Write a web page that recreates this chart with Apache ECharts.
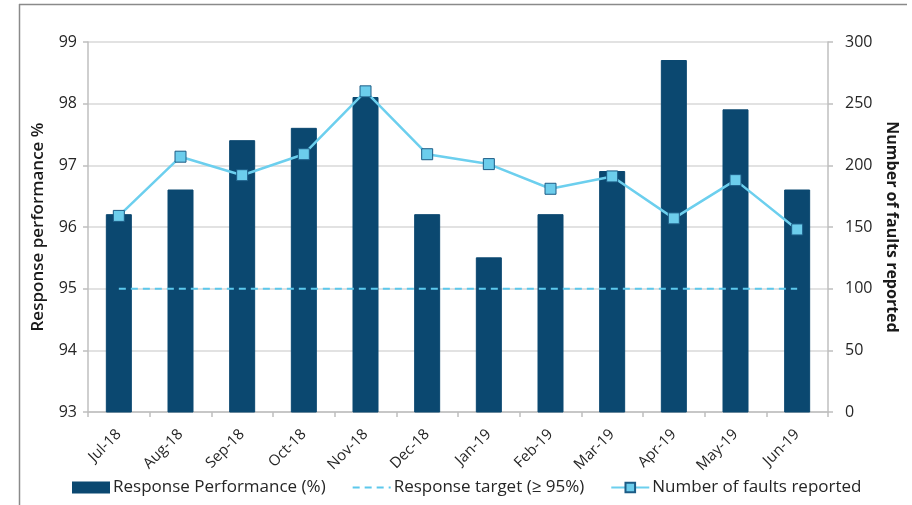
<!DOCTYPE html>
<html>
<head>
<meta charset="utf-8">
<script src="https://cdn.jsdelivr.net/npm/echarts@6/dist/echarts.min.js"></script>
<style>
html,body{margin:0;padding:0;background:#fff;}
#c{width:912px;height:505px;}
</style>
</head>
<body>
<div id="c"></div>
<script>
const categories = ['Jul-18','Aug-18','Sep-18','Oct-18','Nov-18','Dec-18','Jan-19','Feb-19','Mar-19','Apr-19','May-19','Jun-19'];
const responsePerformance = [96.2, 96.6, 97.4, 97.6, 98.1, 96.2, 95.5, 96.2, 96.9, 98.7, 97.9, 96.6];
const responseTarget = [95, 95, 95, 95, 95, 95, 95, 95, 95, 95, 95, 95];
const faultsReported = [159, 207, 192, 209, 260, 209, 201, 181, 191, 157, 188, 148];
const leftTicks = [93, 99, 1];
const rightTicks = [0, 300, 50];

const FONT = '"Open Sans", "Liberation Sans", sans-serif';
const chart = echarts.init(document.getElementById('c'), null, {renderer: 'canvas'});
chart.setOption({
  animation: false,
  backgroundColor: '#ffffff',
  textStyle: {fontFamily: FONT, color: '#262626'},
  grid: {left: 88, right: 84, top: 42, bottom: 93, containLabel: false},
  graphic: [
    {type: 'line', shape: {x1: 19, y1: 4.5, x2: 907, y2: 4.5}, style: {stroke: '#8a8a8a', lineWidth: 1.5}, silent: true},
    {type: 'line', shape: {x1: 19.5, y1: 4, x2: 19.5, y2: 505}, style: {stroke: '#8a8a8a', lineWidth: 1.5}, silent: true}
  ],
  legend: {
    left: 72, top: 479, padding: 0,
    itemWidth: 38, itemHeight: 12, itemGap: 26,
    textStyle: {fontFamily: FONT, fontSize: 17, color: '#262626', padding: [0, 0, 0, -2]},
    data: [
      {name: 'Response Performance (%)', icon: 'rect'},
      {name: 'Response target (\u2265 95%)', itemStyle: {opacity: 0}},
      {name: 'Number of faults reported'}
    ]
  },
  xAxis: {
    type: 'category',
    data: categories,
    boundaryGap: true,
    axisLine: {lineStyle: {color: '#bfbfbf', width: 1.5}},
    axisTick: {show: true, length: 5, lineStyle: {color: '#bfbfbf', width: 1.5}},
    axisLabel: {rotate: 45, fontSize: 15, color: '#262626', margin: 20, fontFamily: FONT, interval: 0}
  },
  yAxis: [
    {
      type: 'value', min: leftTicks[0], max: leftTicks[1], interval: leftTicks[2],
      name: 'Response performance %', nameLocation: 'middle', nameGap: 41, nameRotate: 90,
      nameTextStyle: {fontSize: 17, fontWeight: 600, color: '#1a1a1a', fontFamily: FONT},
      axisLine: {show: true, lineStyle: {color: '#bfbfbf', width: 1.5}},
      axisTick: {show: true, length: 5, lineStyle: {color: '#bfbfbf', width: 1.5}},
      axisLabel: {fontSize: 16, color: '#262626', margin: 11, fontFamily: FONT},
      splitLine: {lineStyle: {color: '#d9d9d9', width: 1.5}}
    },
    {
      type: 'value', min: rightTicks[0], max: rightTicks[1], interval: rightTicks[2],
      name: 'Number of faults reported', nameLocation: 'middle', nameGap: 50, nameRotate: -90,
      nameTextStyle: {fontSize: 16, fontWeight: 'bold', color: '#1a1a1a', fontFamily: FONT},
      axisLine: {show: true, lineStyle: {color: '#bfbfbf', width: 1.5}},
      axisTick: {show: true, length: 5, lineStyle: {color: '#bfbfbf', width: 1.5}},
      axisLabel: {fontSize: 16, color: '#262626', margin: 17, fontFamily: FONT},
      splitLine: {show: false}
    }
  ],
  series: [
    {
      name: 'Response Performance (%)', type: 'bar', yAxisIndex: 0,
      data: responsePerformance, barWidth: 25,
      itemStyle: {color: '#0b4870', borderColor: '#0b4870'},
      z: 2
    },
    {
      name: 'Response target (\u2265 95%)', type: 'line', yAxisIndex: 0,
      data: responseTarget, symbol: 'none', showSymbol: false,
      lineStyle: {color: '#5cc8ec', width: 2, type: [7, 5]},
      itemStyle: {color: '#5cc8ec'},
      z: 3
    },
    {
      name: 'Number of faults reported', type: 'line', yAxisIndex: 1,
      data: faultsReported, symbol: 'rect', symbolSize: 11,
      lineStyle: {color: '#6ccfee', width: 2.5},
      itemStyle: {color: '#6ccdec', borderColor: '#1c5c86', borderWidth: 1},
      z: 4
    }
  ]
});
</script>
</body>
</html>
